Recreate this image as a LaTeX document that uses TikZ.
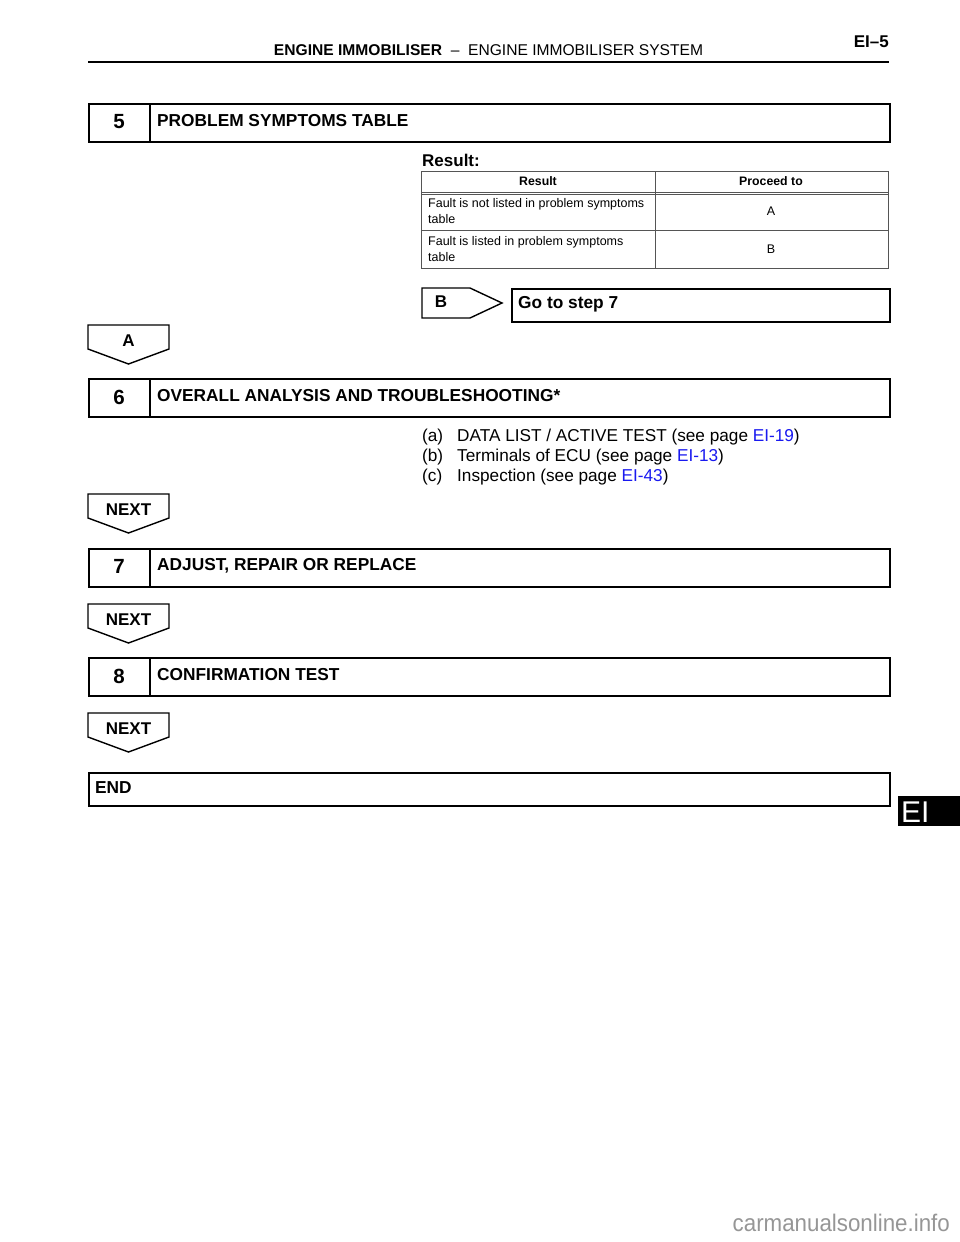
\documentclass[tikz,border=0pt]{standalone}
\usepackage{fontspec}
\setmainfont{Liberation Sans}
\definecolor{linkblue}{RGB}{25,25,240}
\definecolor{tablegray}{RGB}{85,85,85}
\definecolor{wmgray}{RGB}{150,150,150}
\begin{document}
\begin{tikzpicture}[x=1pt,y=-1pt,
  frame/.style={draw=black,line width=1.8pt},
  tagshape/.style={draw=black,line width=1.4pt,line join=miter},
  tline/.style={draw=tablegray,line width=0.9pt},
  numtext/.style={font=\fontsize{20.5}{24}\selectfont\bfseries,inner sep=0},
  titletext/.style={font=\fontsize{17.3}{20}\selectfont\bfseries,anchor=west,inner sep=0},
  tagtext/.style={font=\fontsize{17}{20}\selectfont\bfseries,inner sep=0},
  cellhead/.style={font=\fontsize{12.3}{14}\selectfont\bfseries,inner sep=0},
  celltext/.style={font=\fontsize{12.5}{16}\selectfont,inner sep=0,align=left,anchor=west},
  listtext/.style={font=\fontsize{17.2}{20}\selectfont,inner sep=0,anchor=base west},
]
\useasboundingbox (0,0) rectangle (960,1242);
\fill[white] (0,0) rectangle (960,1242);

% header
\node[anchor=base,inner sep=0,font=\fontsize{15.6}{18}\selectfont] (hdr) at (488.5,55)
  {\textbf{ENGINE IMMOBILISER}~~–~~ENGINE IMMOBILISER SYSTEM};
\node[anchor=base east,inner sep=0,font=\fontsize{17}{20}\selectfont\bfseries] (pg) at (889,47) {EI–5};
\draw[line width=2.4pt] (88,62) -- (889,62);

% step 5
\node[frame,anchor=north west,minimum width=801pt,minimum height=38pt,inner sep=0] (box5) at (88,103) {};
\draw[frame] (150,103) -- (150,141);
\node[numtext] (n5) at (119,122) {5};
\node[titletext] (t5) at (157,121) {PROBLEM SYMPTOMS TABLE};

% result table
\node[anchor=base west,inner sep=0,font=\fontsize{17}{20}\selectfont\bfseries] (res) at (422,166) {Result:};
\draw[tline] (421,171) rectangle (888,268);
\draw[tline] (655,171) -- (655,268);
\draw[tline] (421,192) -- (888,192);
\draw[tline] (421,194.5) -- (888,194.5);
\draw[tline] (421,230) -- (888,230);
\node[cellhead] (h1) at (538,181.5) {Result};
\node[cellhead] (h2) at (771,181.5) {Proceed to};
\node[celltext] (r1) at (428,211) {Fault is not listed in problem symptoms\\table};
\node[celltext] (r2) at (428,249) {Fault is listed in problem symptoms\\table};
\node[cellhead,font=\fontsize{12.5}{14}\selectfont] (p1) at (771,211) {A};
\node[cellhead,font=\fontsize{12.5}{14}\selectfont] (p2) at (771,249) {B};

% B branch
\draw[tagshape] (422,288) -- (470,288) -- (502,303) -- (470,318) -- (422,318) -- cycle;
\node[tagtext] (tagB) at (441,302) {B};
\node[frame,anchor=north west,minimum width=378pt,minimum height=33pt,inner sep=0] (go7) at (511,288) {};
\node[titletext] (go7t) at (518,304) {Go to step 7};

% A tag
\draw[tagshape] (88,325) -- (169,325) -- (169,349) -- (128.5,364) -- (88,349) -- cycle;
\node[tagtext] (tagA) at (128.5,341) {A};

% step 6
\node[frame,anchor=north west,minimum width=801pt,minimum height=38pt,inner sep=0] (box6) at (88,378) {};
\draw[frame] (150,378) -- (150,416);
\node[numtext] (n6) at (119,397) {6};
\node[titletext] (t6) at (157,396) {OVERALL ANALYSIS AND TROUBLESHOOTING*};
\node[listtext] (la) at (422,441) {(a)};
\node[listtext] (lat) at (457,441) {DATA LIST / ACTIVE TEST (see page \textcolor{linkblue}{EI-19})};
\node[listtext] (lb) at (422,461) {(b)};
\node[listtext] (lbt) at (457,461) {Terminals of ECU (see page \textcolor{linkblue}{EI-13})};
\node[listtext] (lc) at (422,481) {(c)};
\node[listtext] (lct) at (457,481) {Inspection (see page \textcolor{linkblue}{EI-43})};

% NEXT 1
\draw[tagshape] (88,494) -- (169,494) -- (169,518) -- (128.5,533) -- (88,518) -- cycle;
\node[tagtext] (next1) at (128.5,510) {NEXT};

% step 7
\node[frame,anchor=north west,minimum width=801pt,minimum height=38pt,inner sep=0] (box7) at (88,548) {};
\draw[frame] (150,548) -- (150,586);
\node[numtext] (n7) at (119,566) {7};
\node[titletext] (t7) at (157,566) {ADJUST, REPAIR OR REPLACE};

% NEXT 2
\draw[tagshape] (88,604) -- (169,604) -- (169,628) -- (128.5,643) -- (88,628) -- cycle;
\node[tagtext] (next2) at (128.5,620) {NEXT};

% step 8
\node[frame,anchor=north west,minimum width=801pt,minimum height=38pt,inner sep=0] (box8) at (88,657) {};
\draw[frame] (150,657) -- (150,695);
\node[numtext] (n8) at (119,676) {8};
\node[titletext] (t8) at (157,675) {CONFIRMATION TEST};

% NEXT 3
\draw[tagshape] (88,713) -- (169,713) -- (169,737) -- (128.5,752) -- (88,737) -- cycle;
\node[tagtext] (next3) at (128.5,729) {NEXT};

% END
\node[frame,anchor=north west,minimum width=801pt,minimum height=33pt,inner sep=0] (endbox) at (88,772) {};
\node[titletext] (endt) at (95,788) {END};

% EI tab
\fill[black] (898,796) rectangle (960,826);
\node[anchor=base west,inner sep=0,text=white,font=\fontsize{30}{34}\selectfont] (eitab) at (901,822.5) {EI};

% watermark
\node[anchor=base east,inner sep=0,text=wmgray,font=\fontsize{24}{28}\selectfont,xscale=0.93] (wm) at (950,1231) {carmanualsonline.info};
\end{tikzpicture}
\end{document}
